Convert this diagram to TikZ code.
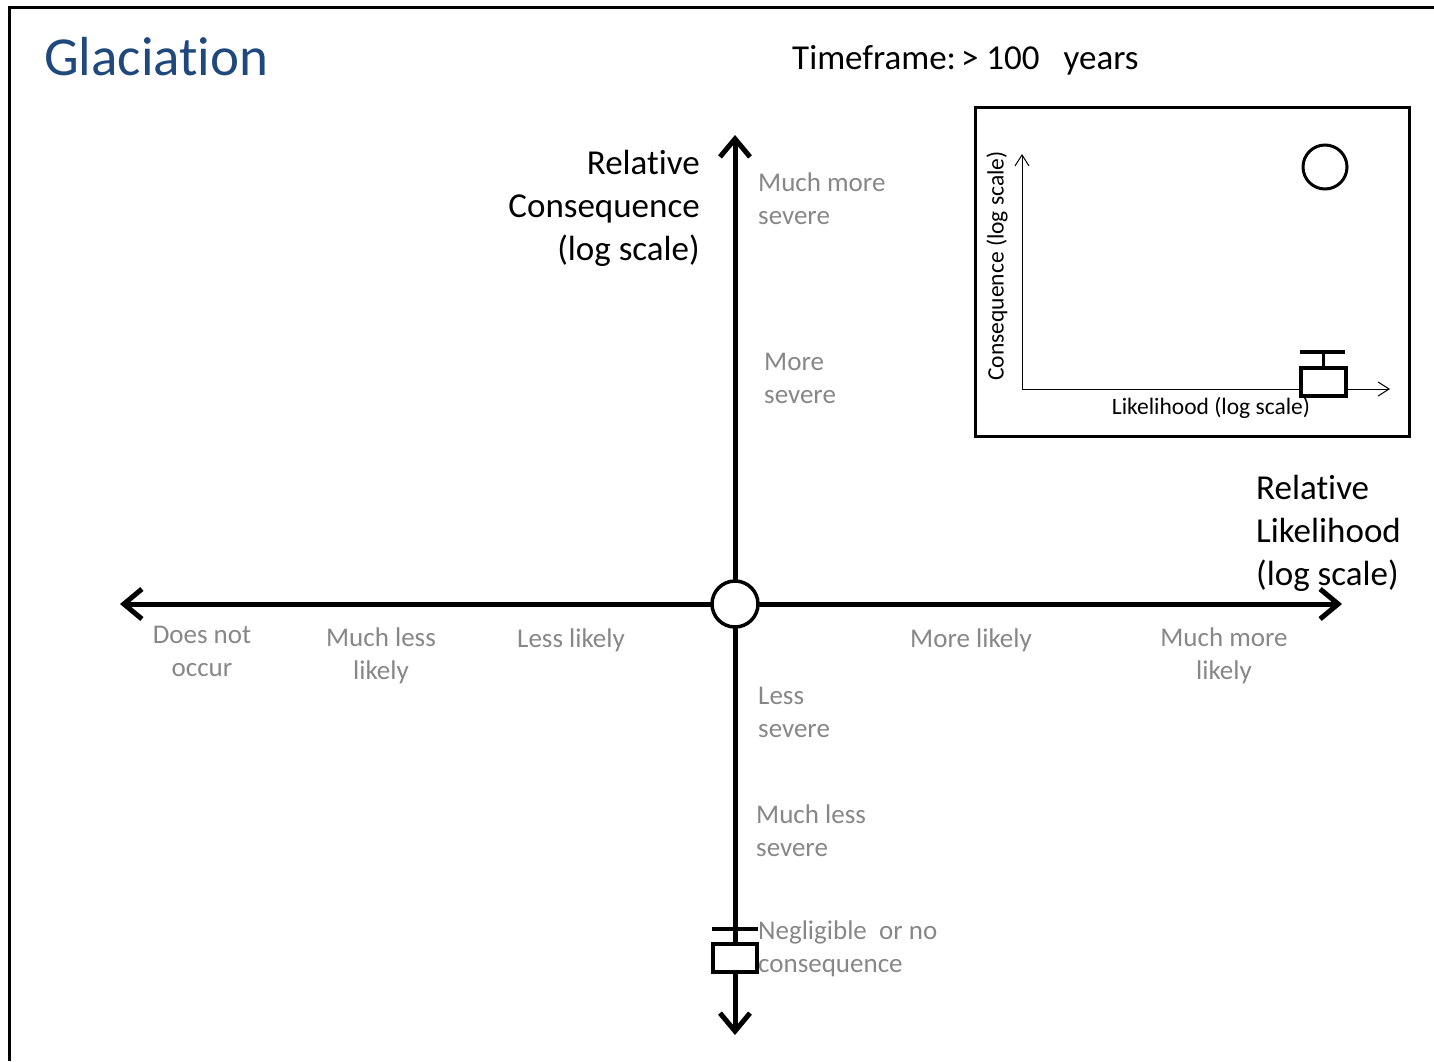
\documentclass[tikz,border=0pt]{standalone}
\usepackage{fontspec}
\setmainfont{Carlito}[RawFeature={-liga;-clig;-dlig;-calt}]
\usetikzlibrary{arrows.meta}
\definecolor{titleblue}{RGB}{31,73,125}
\definecolor{lblgray}{RGB}{135,135,135}
\tikzset{
  graylbl/.style={text=lblgray, inner sep=0pt, font=\fontsize{27}{33}\selectfont},
  blacklbl/.style={text=black, inner sep=0pt, font=\fontsize{35}{43}\selectfont},
  mainaxis/.style={line width=5pt, -{Straight Barb[length=18pt,width=30pt]}},
  insetaxis/.style={line width=1pt, -{Straight Barb[length=11pt,width=14pt]}},
  symline/.style={line width=4pt},
}
\begin{document}
\begin{tikzpicture}[x=1pt,y=-1pt]
\useasboundingbox (0,0) rectangle (1434,1061);
% frame
\draw[line width=3pt] (9,1061) -- (9,7) -- (1434,7);
% title
\node[anchor=west, inner sep=0pt, text=titleblue, font=\fontsize{55}{66}\selectfont] (title) at (44,57) {Glaciation};
\node[anchor=west, inner sep=0pt, font=\fontsize{35}{42}\selectfont] (timeframe) at (792,60) {Timeframe:\hspace{5pt}> 100\hspace*{24pt}years};
% main axes
\coordinate (L) at (120,604);
\coordinate (R) at (1342,604);
\coordinate (T) at (735,135);
\coordinate (B) at (735,1035);
\coordinate (O) at (735,604);
\draw[mainaxis] (O) -- (L);
\draw[mainaxis] (O) -- (R);
\draw[mainaxis] (O) -- (T);
\draw[mainaxis] (O) -- (B);
\node[circle, draw, line width=3.5pt, fill=white, minimum size=46pt, inner sep=0pt] (origin) at (O) {};
% bottom symbol
\node[draw, line width=4pt, fill=white, minimum width=44pt, minimum height=28pt, inner sep=0pt] (symbox) at (735,958) {};
\coordinate (barL) at (712,929);
\coordinate (barR) at (758,929);
\draw[symline] (barL) -- (barR);
% axis titles
\node[blacklbl, anchor=east, align=right] (conslbl) at (700,208) {Relative\\Consequence\\(log scale)};
\node[blacklbl, anchor=west, align=left] (likelbl) at (1256,533) {Relative\\Likelihood\\(log scale)};
% vertical labels
\node[graylbl, anchor=west, align=left] (v1) at (758,199) {Much more\\severe};
\node[graylbl, anchor=west, align=left] (v2) at (764,378) {More\\severe};
\node[graylbl, anchor=west, align=left] (v3) at (758,712) {Less\\severe};
\node[graylbl, anchor=west, align=left] (v4) at (756,831) {Much less\\severe};
\node[graylbl, anchor=west, align=left] (v5) at (758,949) {Negligible\ \ or no\\consequence};
% horizontal labels
\node[graylbl, align=center] (h1) at (202,651) {Does not\\occur};
\node[graylbl, align=center] (h2) at (381,656) {Much less\\likely};
\node[graylbl, align=center] (h3) at (571,640) {Less likely};
\node[graylbl, align=center] (h4) at (971,640) {More likely};
\node[graylbl, align=center] (h5) at (1224,656) {Much more\\likely};
% inset
\node[draw, line width=3pt, minimum width=434pt, minimum height=329pt, inner sep=0pt] (inset) at (1192.5,272) {};
\coordinate (io) at (1022,389);
\coordinate (iy) at (1022,154);
\coordinate (ix) at (1390,389);
\draw[insetaxis] (io) -- (iy);
\draw[insetaxis] (io) -- (ix);
\node[inner sep=0pt, font=\fontsize{23.5}{28}\selectfont] (ixlbl) at (1211,408) {Likelihood (log scale)};
\node[inner sep=0pt, rotate=90, font=\fontsize{23.5}{28}\selectfont] (iylbl) at (997,266) {Consequence (log scale)};
\node[circle, draw, line width=3pt, minimum size=44pt, inner sep=0pt] (icircle) at (1325,167) {};
\node[draw, line width=4pt, fill=white, minimum width=45pt, minimum height=28pt, inner sep=0pt] (ibox) at (1323,382) {};
\coordinate (ibarL) at (1300,352);
\coordinate (ibarR) at (1345,352);
\coordinate (istem) at (1323,352);
\draw[symline] (ibarL) -- (ibarR);
\draw[line width=3pt] (istem) -- (ibox.north);
\end{tikzpicture}
\end{document}
